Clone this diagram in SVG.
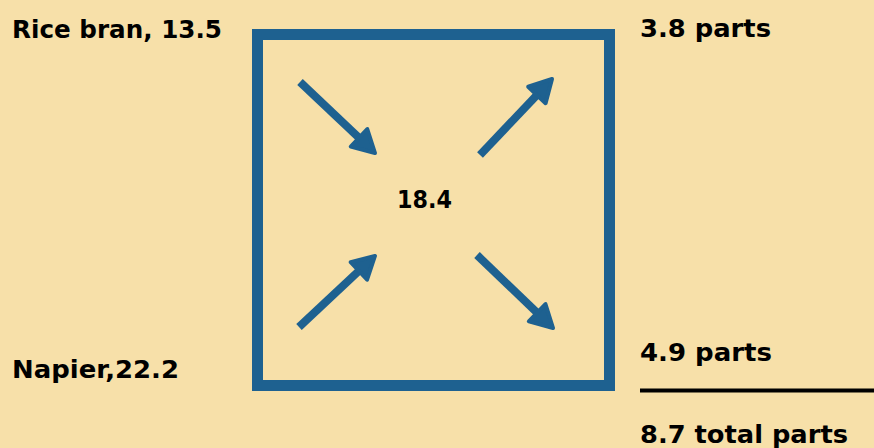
<svg xmlns="http://www.w3.org/2000/svg" width="874" height="448" viewBox="0 0 874 448">
<style>
.t{font-family:"DejaVu Sans","Liberation Sans",sans-serif;font-weight:bold;fill:#000;font-size:25.5px}
.a{stroke:#1E6190;stroke-width:8;fill:none}
</style>
<defs>
<marker id="h" markerUnits="userSpaceOnUse" markerWidth="40" markerHeight="40" viewBox="-12 -20 32 40" refX="0" refY="0" orient="auto">
<path d="M15,0 L-7,-12 L-7,12 Z" fill="#1E6190" stroke="#1E6190" stroke-width="4" stroke-linejoin="round"/>
</marker>
</defs>
<rect width="874" height="448" fill="#F7E0A9"/>
<g id="box"><rect x="257.5" y="34.5" width="352" height="351" fill="none" stroke="#1E6190" stroke-width="11"/></g>
<g id="connectors">
<line class="a" x1="300" y1="82" x2="364.1" y2="142.7" marker-end="url(#h)"/>
<line class="a" x1="480" y1="155" x2="541.7" y2="89.9" marker-end="url(#h)"/>
<line class="a" x1="299" y1="327" x2="364" y2="266.2" marker-end="url(#h)"/>
<line class="a" x1="477" y1="255" x2="542.2" y2="317.6" marker-end="url(#h)"/>
</g>
<g id="center"><text class="t" x="397" y="208" textLength="55" lengthAdjust="spacingAndGlyphs">18.4</text></g>
<g id="rice"><text class="t" x="12" y="38" textLength="210" lengthAdjust="spacingAndGlyphs">Rice bran, 13.5</text></g>
<g id="napier"><text class="t" x="12" y="378" textLength="167" lengthAdjust="spacingAndGlyphs">Napier,22.2</text></g>
<g id="p1"><text class="t" x="640" y="37" textLength="131" lengthAdjust="spacingAndGlyphs">3.8 parts</text></g>
<g id="p2"><text class="t" x="640" y="361" textLength="132" lengthAdjust="spacingAndGlyphs">4.9 parts</text></g>
<g id="total"><line x1="640" y1="390.5" x2="874" y2="390.5" stroke="#000" stroke-width="4"/><text class="t" x="640" y="443" textLength="208" lengthAdjust="spacingAndGlyphs">8.7 total parts</text></g>
</svg>
